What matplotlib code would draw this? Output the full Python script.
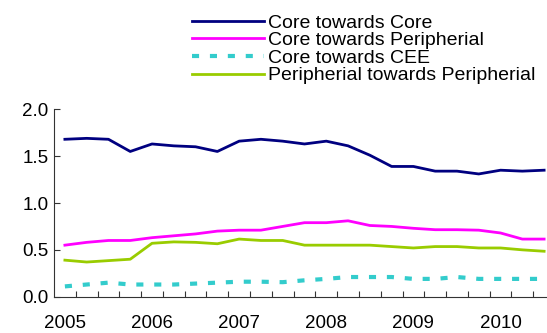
import matplotlib
matplotlib.use("Agg")
import matplotlib.pyplot as plt
from matplotlib.ticker import FixedLocator, NullFormatter

plt.rcParams['font.family'] = ['Liberation Sans', 'DejaVu Sans']

# Quarterly observations, 2005 Q1 - 2010 Q3
years = ["2005", "2006", "2007", "2008", "2009", "2010"]
core_core = [1.68, 1.69, 1.68, 1.55, 1.63, 1.61, 1.60, 1.55, 1.66, 1.68, 1.66, 1.63,
             1.66, 1.61, 1.51, 1.39, 1.39, 1.34, 1.34, 1.31, 1.35, 1.34, 1.35]
core_periph = [0.55, 0.58, 0.60, 0.60, 0.63, 0.65, 0.67, 0.70, 0.71, 0.71, 0.75, 0.79,
               0.79, 0.81, 0.76, 0.75, 0.73, 0.715, 0.715, 0.71, 0.68, 0.615, 0.615]
core_cee = [0.11, 0.13, 0.15, 0.13, 0.13, 0.13, 0.14, 0.15, 0.16, 0.16, 0.155, 0.175,
            0.19, 0.21, 0.21, 0.21, 0.19, 0.19, 0.21, 0.19, 0.19, 0.19, 0.19]
periph_periph = [0.39, 0.37, 0.385, 0.40, 0.57, 0.585, 0.58, 0.565, 0.615, 0.60, 0.60, 0.55,
                 0.55, 0.55, 0.55, 0.535, 0.52, 0.535, 0.535, 0.52, 0.52, 0.50, 0.485]

W, H = 547, 333
fig = plt.figure(figsize=(W / 100, H / 100), dpi=100)
ax = fig.add_axes([54 / W, 36.3 / H, 501 / W, 187.4 / H])

x = list(range(len(core_core)))
l1, = ax.plot(x, core_core, color="#000080", lw=2.0, label="Core towards Core")
l2, = ax.plot(x, core_periph, color="#FF00FF", lw=2.0, label="Core towards Peripherial")
l3, = ax.plot(x, core_cee, color="#33CCCC", lw=3.0, dashes=(1.7, 2.6), label="Core towards CEE")
l4, = ax.plot(x, periph_periph, color="#99CC00", lw=2.0, label="Peripherial towards Peripherial")

ax.set_xlim(-0.5, len(x) - 0.5)
ax.set_ylim(0, 2.0)
ax.set_yticks([0, 0.5, 1.0, 1.5, 2.0])
ax.set_yticklabels(["0.0", "0.5", "1.0", "1.5", "2.0"])

ax.set_xticks([4 * i for i in range(len(years))])
ax.set_xticklabels(years)
ax.xaxis.set_minor_locator(FixedLocator([i + 0.5 for i in range(len(x))]))
ax.xaxis.set_minor_formatter(NullFormatter())

ax.tick_params(axis="x", which="major", length=0, pad=13.2, labelsize=13.5)
ax.tick_params(axis="x", which="minor", direction="in", length=4.3, width=0.8, color="#333333")
ax.tick_params(axis="y", direction="in", length=4.3, width=0.8, pad=4, labelsize=13.5, color="#333333")

for s in ("top", "right"):
    ax.spines[s].set_visible(False)
for s in ("left", "bottom"):
    ax.spines[s].set_color("#333333")
    ax.spines[s].set_linewidth(0.8)

fig.legend(handles=[l1, l2, l3, l4], loc="upper left",
           bbox_to_anchor=(192 / W, 1 - 14 / H), frameon=False, fontsize=14,
           handlelength=3.7, handletextpad=0.2, labelspacing=0.0,
           borderpad=0, borderaxespad=0)

fig.savefig("out.png", dpi=100)
